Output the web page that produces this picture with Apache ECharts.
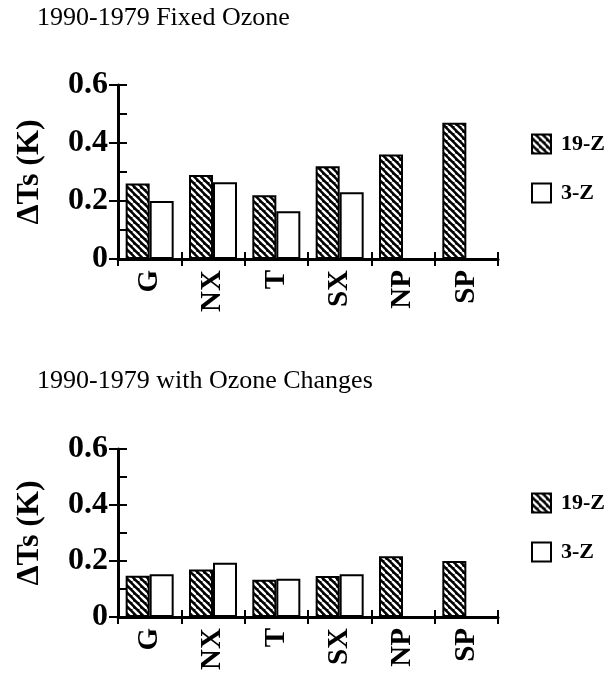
<!DOCTYPE html>
<html>
<head>
<meta charset="utf-8">
<script src="https://cdn.jsdelivr.net/npm/echarts@6/dist/echarts.min.js"></script>
<style>
  html, body { margin: 0; padding: 0; background: #fff; }
  #chart { width: 615px; height: 673px; }
</style>
</head>
<body>
<div id="chart"></div>
<script>
// data
var regions = ["G", "NX", "T", "SX", "NP", "SP"];
var fixedZ19 = [0.26, 0.29, 0.22, 0.32, 0.36, 0.47];
var fixedZ3 = [0.20, 0.265, 0.165, 0.23, null, null];
var ozoneZ19 = [0.147, 0.17, 0.133, 0.146, 0.217, 0.20];
var ozoneZ3 = [0.153, 0.194, 0.137, 0.153, null, null];
var yTicks = ["0", "0.2", "0.4", "0.6"];
var panelTitles = ["1990-1979 Fixed Ozone", "1990-1979 with Ozone Changes"];
var seriesNames = ["19-Z", "3-Z"];

var serif = '"Liberation Serif", "Times New Roman", serif';

// hatch tile: black with white "\" stripes
function hatch() {
  var s = 7;
  var c = document.createElement("canvas");
  c.width = s; c.height = s;
  var g = c.getContext("2d");
  g.fillStyle = "#000";
  g.fillRect(0, 0, s, s);
  g.strokeStyle = "#fff";
  g.lineWidth = 2.4;
  for (var k = -1; k <= 1; k++) {
    g.beginPath();
    g.moveTo(k * s, 0);
    g.lineTo(k * s + s, s);
    g.stroke();
  }
  return c;
}
var hatchFill = { image: hatch(), repeat: "repeat" };

var chart = echarts.init(document.getElementById("chart"));

var grids = [
  { left: 118, right: 117, top: 85, height: 174 },
  { left: 118, right: 117, top: 449, height: 168 }
];

var xAxes = [], yAxes = [], series = [];
[0, 1].forEach(function (i) {
  xAxes.push({
    type: "category", gridIndex: i, data: regions, position: "bottom",
    axisLine: { show: true, lineStyle: { color: "#000", width: 3 } },
    axisTick: { show: true, length: 7, lineStyle: { color: "#000", width: 2 } },
    axisLabel: {
      rotate: 90, margin: 11, color: "#000",
      fontFamily: serif, fontWeight: "bold", fontSize: 29
    }
  });
  xAxes.push({
    type: "category", gridIndex: i, data: regions, position: "bottom",
    axisLine: { show: false },
    axisTick: { show: true, inside: true, length: 7, lineStyle: { color: "#000", width: 2 } },
    axisLabel: { show: false }
  });
  yAxes.push({
    type: "value", gridIndex: i, position: "left", min: 0, max: 0.6, interval: 0.2,
    name: "ΔTs (K)", nameLocation: "middle", nameGap: 72,
    nameTextStyle: { fontFamily: serif, fontWeight: "bold", fontSize: 32, color: "#000" },
    axisLine: { show: true, lineStyle: { color: "#000", width: 3 } },
    axisTick: { show: true, inside: true, length: 9, lineStyle: { color: "#000", width: 2 } },
    minorTick: { show: true, splitNumber: 2, length: 9, lineStyle: { color: "#000", width: 2 } },
    splitLine: { show: false },
    axisLabel: {
      margin: 10, color: "#000", fontFamily: serif, fontWeight: "bold", fontSize: 32,
      formatter: function (v) { return yTicks[Math.round(v / 0.2)]; }
    }
  });
  yAxes.push({
    type: "value", gridIndex: i, position: "left", offset: 0, min: 0, max: 0.6, interval: 0.2,
    axisLine: { show: false },
    axisTick: { show: true, length: 9, lineStyle: { color: "#000", width: 2 } },
    splitLine: { show: false },
    axisLabel: { show: false }
  });
});

var panels = [[fixedZ19, fixedZ3], [ozoneZ19, ozoneZ3]];
panels.forEach(function (p, i) {
  series.push({
    name: seriesNames[0], type: "bar", xAxisIndex: i * 2, yAxisIndex: i * 2,
    data: p[0], barWidth: 24, barGap: "0%",
    itemStyle: { color: hatchFill, borderColor: "#000", borderWidth: 2 }
  });
  series.push({
    name: seriesNames[1], type: "bar", xAxisIndex: i * 2, yAxisIndex: i * 2,
    data: p[1], barWidth: 24, barGap: "0%",
    itemStyle: { color: "#fff", borderColor: "#000", borderWidth: 2 }
  });
});

var option = {
  animation: false,
  backgroundColor: "#fff",
  title: [
    { text: panelTitles[0], left: 37, top: 5, padding: 0,
      textStyle: { fontFamily: serif, fontWeight: "normal", fontSize: 26, color: "#000" } },
    { text: panelTitles[1], left: 37, top: 368, padding: 0,
      textStyle: { fontFamily: serif, fontWeight: "normal", fontSize: 26, color: "#000" } }
  ],
  legend: [
    { data: seriesNames, orient: "vertical", left: 531, top: 133, padding: 0,
      itemWidth: 19, itemHeight: 19, itemGap: 27, icon: "rect",
      textStyle: { fontFamily: serif, fontWeight: "bold", fontSize: 22, color: "#000", padding: [0, 0, 0, 5] } },
    { data: seriesNames, orient: "vertical", left: 531, top: 492, padding: 0,
      itemWidth: 19, itemHeight: 19, itemGap: 27, icon: "rect",
      textStyle: { fontFamily: serif, fontWeight: "bold", fontSize: 22, color: "#000", padding: [0, 0, 0, 5] } }
  ],
  grid: grids,
  xAxis: xAxes,
  yAxis: yAxes,
  series: series
};

chart.setOption(option);
window.addEventListener("resize", function () {
  chart.resize();
});
</script>
</body>
</html>
